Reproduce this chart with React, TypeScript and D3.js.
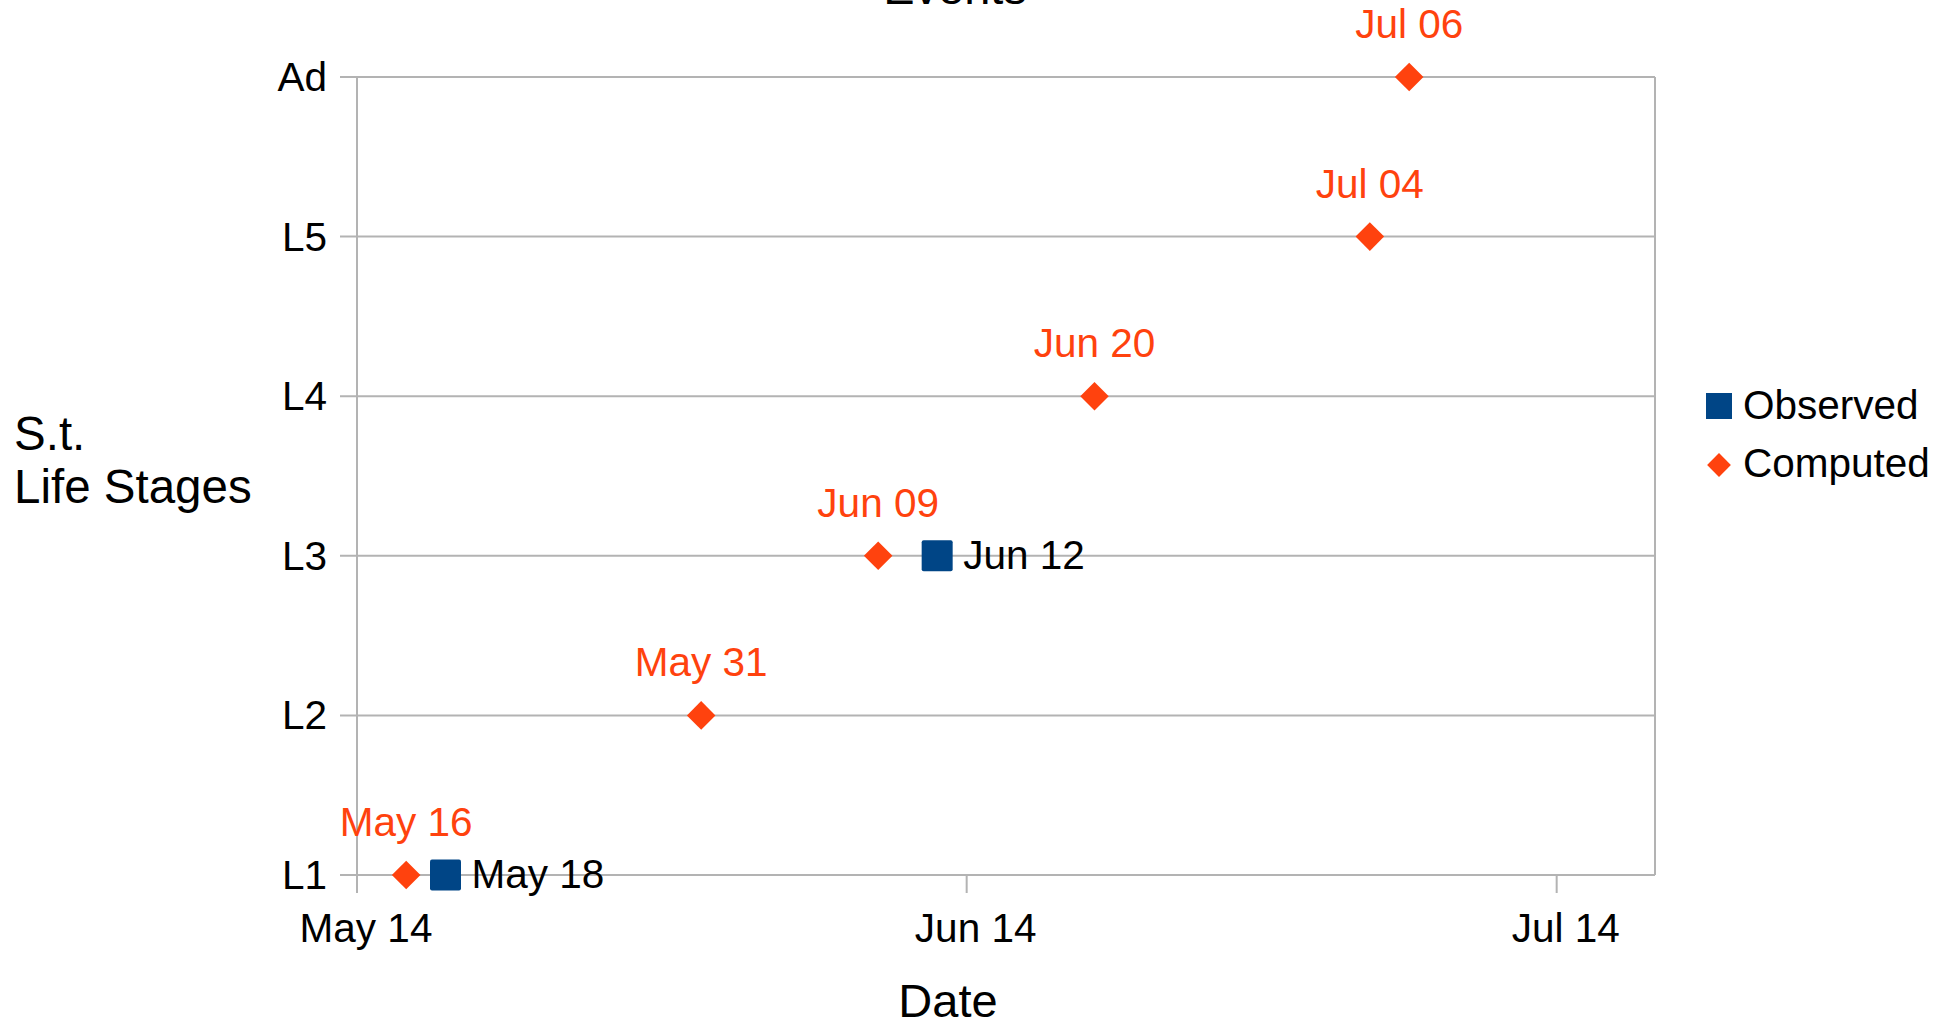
import React, { useRef, useEffect } from "react";
import * as d3 from "d3";

// Life stages on the y axis
const stages: string[] = ["L1", "L2", "L3", "L4", "L5", "Ad"];

// Observed dates (points sit at midday)
const observedDates: string[] = ["2024-05-18T12:00", "2024-06-12T12:00"];
const observedStages: string[] = ["L1", "L3"];
const observedLabels: string[] = ["May 18", "Jun 12"];

// Computed dates
const computedDates: string[] = [
  "2024-05-16T12:00",
  "2024-05-31T12:00",
  "2024-06-09T12:00",
  "2024-06-20T12:00",
  "2024-07-04T12:00",
  "2024-07-06T12:00",
];
const computedStages: string[] = ["L1", "L2", "L3", "L4", "L5", "Ad"];
const computedLabels: string[] = ["May 16", "May 31", "Jun 09", "Jun 20", "Jul 04", "Jul 06"];

const xTicks: string[] = ["2024-05-14", "2024-06-14", "2024-07-14"];
const xTickLabels: string[] = ["May 14", "Jun 14", "Jul 14"];
const xDomain: string[] = ["2024-05-14", "2024-07-19"];

const seriesNames: string[] = ["Observed", "Computed"];

interface Point {
  date: Date;
  stage: string;
  label: string;
}

const App: React.FC = () => {
  const svgRef = useRef<SVGSVGElement | null>(null);

  useEffect(() => {
    const width = 1946;
    const height = 1025;
    const margin = { top: 77, right: 291, bottom: 150, left: 357 };
    const font = "'Liberation Sans', Arial, sans-serif";
    const blue = "#004586";
    const orange = "#ff420e";
    const grid = "#b3b3b3";
    const fs = "40.5px";

    const parse = (s: string) => new Date(s);
    const observed: Point[] = observedDates.map((d, i) => ({
      date: parse(d),
      stage: observedStages[i],
      label: observedLabels[i],
    }));
    const computed: Point[] = computedDates.map((d, i) => ({
      date: parse(d),
      stage: computedStages[i],
      label: computedLabels[i],
    }));

    const svgSel = d3.select(svgRef.current);
    svgSel.selectAll("*").remove();
    svgSel.attr("width", width).attr("height", height);

    const x = d3
      .scaleTime()
      .domain([parse(xDomain[0] + "T00:00"), parse(xDomain[1] + "T00:00")])
      .range([margin.left, width - margin.right]);

    const y = d3
      .scalePoint<string>()
      .domain(stages)
      .range([height - margin.bottom, margin.top]);

    const [x0, x1] = x.range();
    const [yb, yt] = y.range();

    // Title (cut off at the top, as in the source)
    svgSel
      .append("text")
      .attr("x", 955)
      .attr("y", 4)
      .attr("text-anchor", "middle")
      .style("font-family", font)
      .style("font-size", "47px")
      .text("Events");

    // Gridlines and y ticks
    svgSel
      .append("g")
      .selectAll("line")
      .data(stages)
      .join("line")
      .attr("x1", x0 - 17)
      .attr("x2", x1)
      .attr("y1", (d) => y(d)!)
      .attr("y2", (d) => y(d)!)
      .attr("stroke", grid)
      .attr("stroke-width", 2);

    // Left axis + right border
    svgSel
      .append("line")
      .attr("x1", x0)
      .attr("x2", x0)
      .attr("y1", yt)
      .attr("y2", yb + 18)
      .attr("stroke", grid)
      .attr("stroke-width", 2);
    svgSel
      .append("line")
      .attr("x1", x1)
      .attr("x2", x1)
      .attr("y1", yt)
      .attr("y2", yb)
      .attr("stroke", grid)
      .attr("stroke-width", 2);

    // x ticks
    const tickDates = xTicks.map((d) => parse(d + "T00:00"));
    svgSel
      .append("g")
      .selectAll("line")
      .data(tickDates)
      .join("line")
      .attr("x1", (d) => x(d))
      .attr("x2", (d) => x(d))
      .attr("y1", yb)
      .attr("y2", yb + 18)
      .attr("stroke", grid)
      .attr("stroke-width", 2);

    svgSel
      .append("g")
      .selectAll("text")
      .data(tickDates)
      .join("text")
      .attr("x", (d) => x(d) + 9)
      .attr("y", yb + 67)
      .attr("text-anchor", "middle")
      .style("font-family", font)
      .style("font-size", fs)
      .text((_, i) => xTickLabels[i]);

    // y tick labels
    svgSel
      .append("g")
      .selectAll("text")
      .data(stages)
      .join("text")
      .attr("x", x0 - 30)
      .attr("y", (d) => y(d)! + 14)
      .attr("text-anchor", "end")
      .style("font-family", font)
      .style("font-size", fs)
      .text((d) => d);

    // Axis titles
    svgSel
      .append("text")
      .attr("x", 948)
      .attr("y", 1017)
      .attr("text-anchor", "middle")
      .style("font-family", font)
      .style("font-size", "47px")
      .text("Date");

    const yTitle = svgSel
      .append("text")
      .style("font-family", font)
      .style("font-size", "47.5px");
    yTitle.append("tspan").attr("x", 14).attr("y", 450).text("S.t.");
    yTitle.append("tspan").attr("x", 14).attr("y", 503).text("Life Stages");

    const diamond = d3.symbol().type(d3.symbolDiamond2).size(520);

    // Computed points
    svgSel
      .append("g")
      .selectAll("path")
      .data(computed)
      .join("path")
      .attr("d", diamond)
      .attr("transform", (d) => `translate(${x(d.date)},${y(d.stage)})`)
      .attr("fill", orange);

    svgSel
      .append("g")
      .selectAll("text")
      .data(computed)
      .join("text")
      .attr("x", (d) => x(d.date))
      .attr("y", (d) => y(d.stage)! - 39)
      .attr("text-anchor", "middle")
      .attr("fill", orange)
      .style("font-family", font)
      .style("font-size", fs)
      .text((d) => d.label);

    // Observed points
    const sq = 31;
    svgSel
      .append("g")
      .selectAll("rect")
      .data(observed)
      .join("rect")
      .attr("x", (d) => x(d.date) - sq / 2)
      .attr("y", (d) => y(d.stage)! - sq / 2)
      .attr("width", sq)
      .attr("height", sq)
      .attr("rx", 2)
      .attr("fill", blue);

    svgSel
      .append("g")
      .selectAll("text")
      .data(observed)
      .join("text")
      .attr("x", (d) => x(d.date) + 26)
      .attr("y", (d) => y(d.stage)! + 13)
      .style("font-family", font)
      .style("font-size", fs)
      .text((d) => d.label);

    // Legend
    const legend = svgSel.append("g");
    legend
      .append("rect")
      .attr("x", 1706)
      .attr("y", 393)
      .attr("width", 26)
      .attr("height", 26)
      .attr("fill", blue);
    legend
      .append("path")
      .attr("d", d3.symbol().type(d3.symbolDiamond2).size(360)())
      .attr("transform", "translate(1719,465)")
      .attr("fill", orange);
    legend
      .selectAll("text")
      .data(seriesNames)
      .join("text")
      .attr("x", 1743)
      .attr("y", (_, i) => 419 + i * 58)
      .style("font-family", font)
      .style("font-size", fs)
      .text((d) => d);
  }, []);

  return (
    <svg
      ref={svgRef}
      style={{ position: "absolute", left: 0, top: 0, background: "#fff" }}
    ></svg>
  );
};

export default App;
